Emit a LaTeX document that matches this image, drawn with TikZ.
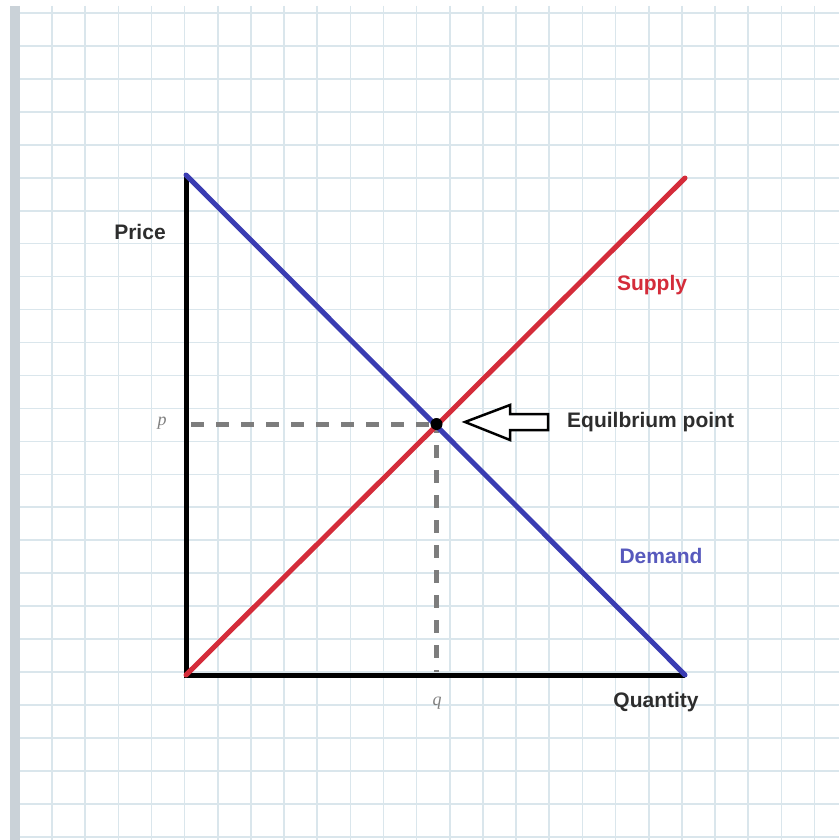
\documentclass[tikz,border=0pt]{standalone}
\usepackage{fontspec}
\setmainfont{Liberation Sans}
\newfontfamily\varfont{Liberation Serif}
\definecolor{gridblue}{RGB}{218,230,236}
\definecolor{stripgray}{RGB}{202,210,216}
\definecolor{supplyred}{RGB}{212,44,58}
\definecolor{demandblue}{RGB}{58,60,178}
\definecolor{dashgray}{RGB}{125,125,125}
\definecolor{labelgray}{RGB}{45,45,45}
\tikzset{
  gridline/.style={gridblue,line width=1.6pt},
  curve/.style={line width=5pt,line cap=round},
  guide/.style={dashgray,line width=5pt,dash pattern=on 13pt off 12pt},
  axislabel/.style={labelgray,inner sep=1pt},
  varlabel/.style={gray,inner sep=1pt,font=\varfont\fontsize{18}{20}\selectfont\itshape}
}

\begin{document}
\begin{tikzpicture}[x=1pt,y=-1pt,font=\fontsize{21}{25}\selectfont\bfseries]
\useasboundingbox (0,0) rectangle (839,840);
\fill[white] (0,0) rectangle (839,840);
% squared paper
\foreach \i in {-1,...,24} \draw[gridline] (52+33.15*\i,6)--(52+33.15*\i,840);
\foreach \j in {0,...,25} \draw[gridline] (20,13+32.95*\j)--(839,13+32.95*\j);
\fill[stripgray] (10,6) rectangle (20,840);
% points of the diagram
\coordinate (O) at (186,675);
\coordinate (Ptop) at (186,175);
\coordinate (Qend) at (685,675);
\coordinate (Stop) at (685,178);
\coordinate (E) at (436.5,424);
\coordinate (pstart) at (191,424);
\coordinate (qend) at (436.5,672);
% guides to p and q
\draw[guide] (pstart)--(E);
\draw[guide,dash phase=4pt] (E)--(qend);
% axes
\draw[line width=5pt,line join=miter] (Ptop)--(O)--(Qend);
% demand and supply
\draw[curve,demandblue] (Ptop)--(Qend);
\draw[curve,supplyred] (O)--(Stop);
\node[circle,fill=black,inner sep=0pt,minimum size=12pt] (Edot) at (E) {};
% hollow arrow
\draw[fill=white,line width=2.5pt,line join=miter] (465,422)--(510,405)--(510,414)--(548,414)--(548,430)--(510,430)--(510,440)--cycle;
% labels
\node[axislabel] (price) at (140,232) {Price};
\node[axislabel,supplyred] (supply) at (652,285) {Supply};
\node[axislabel,demandblue!85] (demand) at (661,556) {Demand};
\node[axislabel,anchor=west] (eqlabel) at (566,422) {Equilbrium point};
\node[axislabel] (quantity) at (656,702) {Quantity};
\node[varlabel] (plabel) at (162,423) {p};
\node[varlabel] (qlabel) at (437,703) {q};
\end{tikzpicture}
\end{document}
